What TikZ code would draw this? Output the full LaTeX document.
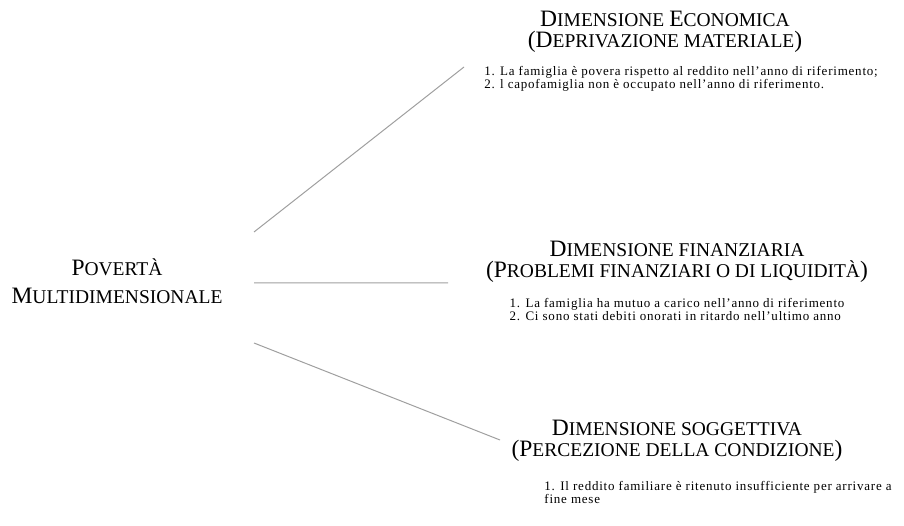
\documentclass[tikz,border=0pt]{standalone}
\usepackage{fontspec}
\setmainfont{Liberation Serif}
\usetikzlibrary{positioning}
\tikzset{x=1pt, y=-1pt,
every node/.style={inner sep=0pt},
heading/.style={align=center, font=\fontsize{19.5}{20.5}\selectfont},
items/.style={align=left, font=\fontsize{13}{13}\selectfont\addfontfeature{LetterSpace=6}},
branch/.style={draw=gray!75, line width=1pt},
}
\newcommand{\capl}[1]{{\fontsize{23.5}{20.5}\selectfont #1}}

\begin{document}
\begin{tikzpicture}
\useasboundingbox (0,0) rectangle (904,526);
    \node[heading, font=\fontsize{19.5}{28}\selectfont] (pov) at (117,281) {\capl{P}OVERTÀ\\ \capl{M}ULTIDIMENSIONALE};
    \node[heading] (eco) at (665,32) {\capl{D}IMENSIONE \capl{E}CONOMICA\\ \capl{(D}EPRIVAZIONE MATERIALE\capl{)}};
    \node[heading] (fin) at (677,262) {\capl{D}IMENSIONE FINANZIARIA\\ \capl{(P}ROBLEMI FINANZIARI O DI LIQUIDITÀ\capl{)}};
    \node[heading] (sog) at (677,441) {\capl{D}IMENSIONE SOGGETTIVA\\ \capl{(P}ERCEZIONE DELLA CONDIZIONE\capl{)}};
% indicators under each dimension
    \node[items, below=14pt of eco, xshift=16pt] (ecoit) {1. La famiglia è povera rispetto al reddito nell’anno di riferimento;\\ 2. l capofamiglia non è occupato nell’anno di riferimento.};
    \node[items, below=16pt of fin] (finit) {1. La famiglia ha mutuo a carico nell’anno di riferimento\\ 2. Ci sono stati debiti onorati in ritardo nell’ultimo anno};
    \node[items, below=19pt of sog, xshift=41pt] (sogit) {1. Il reddito familiare è ritenuto insufficiente per arrivare a\\ fine mese};
% branches
    \coordinate (p1) at (254,232);
    \coordinate (p2) at (254,283);
    \coordinate (p3) at (254,343);
    \coordinate (e1) at (464,67);
    \coordinate (f1) at (448,283);
    \coordinate (s1) at (500,440);
    \draw[branch] (p1) -- (e1)
    (p2) -- (f1)
    (p3) -- (s1);
\end{tikzpicture}
\end{document}
